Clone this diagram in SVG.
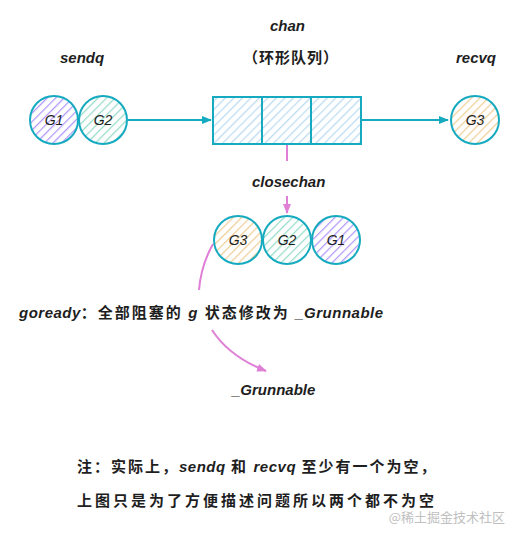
<svg xmlns="http://www.w3.org/2000/svg" width="521" height="538" viewBox="0 0 521 538">
<style>
.t{font-family:"Liberation Sans","Noto Sans CJK SC",sans-serif;font-style:italic;font-weight:bold;fill:#1e1e1e;font-size:15px}
.c{font-family:"Noto Sans CJK SC",sans-serif;font-weight:bold;fill:#1e1e1e;font-size:15px}
.g{font-family:"Liberation Sans",sans-serif;font-style:italic;font-size:14px;fill:#1e1e1e;text-anchor:middle}
.node{stroke:#15aabf;stroke-width:2}
.conn{stroke:#15aabf;stroke-width:2;fill:none}
.pink{stroke:#e07fd6;stroke-width:2;fill:none}
</style>
<defs>
<pattern id="hP" width="6" height="6" patternUnits="userSpaceOnUse" patternTransform="rotate(45)"><rect width="6" height="6" fill="#ffffff"/><line x1="0" y1="0" x2="0" y2="6" stroke="#b197fc" stroke-width="2.5"/></pattern>
<pattern id="hG" width="6" height="6" patternUnits="userSpaceOnUse" patternTransform="rotate(45)"><rect width="6" height="6" fill="#ffffff"/><line x1="0" y1="0" x2="0" y2="6" stroke="#96dcc8" stroke-width="2.5"/></pattern>
<pattern id="hO" width="6" height="6" patternUnits="userSpaceOnUse" patternTransform="rotate(45)"><rect width="6" height="6" fill="#ffffff"/><line x1="0" y1="0" x2="0" y2="6" stroke="#efcf98" stroke-width="2.5"/></pattern>
<pattern id="hB" width="6" height="6" patternUnits="userSpaceOnUse" patternTransform="rotate(45)"><rect width="6" height="6" fill="#ffffff"/><line x1="0" y1="0" x2="0" y2="6" stroke="#bcdcf2" stroke-width="2.5"/></pattern>
<marker id="aT" viewBox="0 0 10 10" refX="9" refY="5" markerWidth="5" markerHeight="5" orient="auto"><path d="M0,1 L10,5 L0,9 z" fill="#15aabf"/></marker>
<marker id="aP" viewBox="0 0 10 10" refX="9" refY="5" markerWidth="5" markerHeight="5" orient="auto"><path d="M0,1 L10,5 L0,9 z" fill="#e07fd6"/></marker>
</defs>
<rect width="521" height="538" fill="#ffffff"/>

<text class="t" x="60" y="63">sendq</text>
<text class="t" x="270" y="31">chan</text>
<text class="c" x="243" y="63" letter-spacing="1">（环形队列）</text>
<text class="t" x="456" y="63">recvq</text>

<g id="connectors">
<line class="conn" x1="128" y1="120" x2="211" y2="120" marker-end="url(#aT)"/>
<line class="conn" x1="361" y1="120" x2="448" y2="120" marker-end="url(#aT)"/>
<line class="pink" x1="287" y1="145" x2="287" y2="161"/>
<line class="pink" x1="287" y1="196" x2="287" y2="213" marker-end="url(#aP)"/>
<path class="pink" d="M213,244 C204,260 200,278 199,290"/>
<path class="pink" d="M212,330 C225,350 243,362 266,371" marker-end="url(#aP)"/>
</g>

<g id="sendq-G1"><circle class="node" cx="54" cy="120" r="24" fill="url(#hP)"/><text class="g" x="54" y="125">G1</text></g>
<g id="sendq-G2"><circle class="node" cx="103" cy="120" r="24" fill="url(#hG)"/><text class="g" x="103" y="125">G2</text></g>
<g id="chan"><rect class="node" x="213" y="97" width="148" height="47" fill="url(#hB)"/><line class="node" x1="262" y1="97" x2="262" y2="144"/><line class="node" x1="311" y1="97" x2="311" y2="144"/></g>
<g id="recvq-G3"><circle class="node" cx="475" cy="120" r="24" fill="url(#hO)"/><text class="g" x="475" y="125">G3</text></g>

<text class="t" x="252" y="187">closechan</text>

<g id="q-G3"><circle class="node" cx="238" cy="240" r="24" fill="url(#hO)"/><text class="g" x="238" y="245">G3</text></g>
<g id="q-G2"><circle class="node" cx="287" cy="240" r="24" fill="url(#hG)"/><text class="g" x="287" y="245">G2</text></g>
<g id="q-G1"><circle class="node" cx="336" cy="240" r="24" fill="url(#hP)"/><text class="g" x="336" y="245">G1</text></g>

<text class="c" x="19" y="318" letter-spacing="2"><tspan class="t" letter-spacing="0.5">goready</tspan>：全部阻塞的 <tspan class="t">g</tspan> 状态修改为 <tspan class="t" letter-spacing="0.5">_Grunnable</tspan></text>
<text class="t" x="232" y="395">_Grunnable</text>

<text class="c" x="77" y="472" letter-spacing="2">注：实际上，<tspan class="t" letter-spacing="0.5">sendq</tspan> 和 <tspan class="t" letter-spacing="0.5">recvq</tspan> 至少有一个为空，</text>
<text class="c" x="77" y="506" letter-spacing="3">上图只是为了方便描述问题所以两个都不为空</text>
<text x="505" y="522" text-anchor="end" font-family="Noto Sans CJK SC,sans-serif" font-size="13" fill="#c0c0c0">@稀土掘金技术社区</text>
</svg>
